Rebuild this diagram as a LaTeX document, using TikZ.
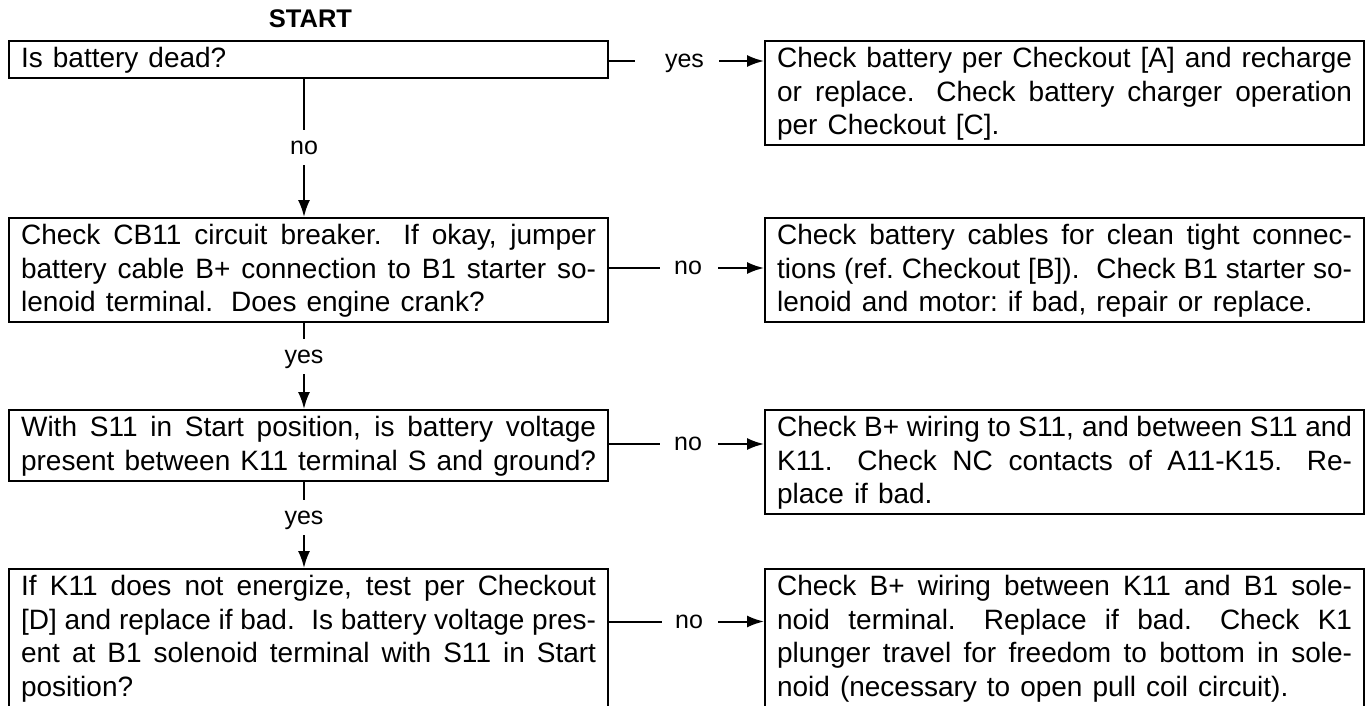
\documentclass[tikz,border=0pt]{standalone}
\usepackage{fontspec}
\setmainfont{Liberation Sans}
\usetikzlibrary{arrows.meta}
\newcommand\wsp{\spaceskip=10pt plus 5pt minus 3.2pt\xspaceskip=18pt plus 6pt minus 2pt\sfcode58=1000\relax}
\newcommand\jl[1]{\hbox to\hsize{\wsp #1}}
\newcommand\lastl{\noindent\wsp}
\newcommand\mystrut{\vrule height 24.9pt depth 8.6pt width 0pt\relax}
\newcommand\sentend{\spacefactor3000{}}
\begin{document}
\begin{tikzpicture}[x=1pt,y=-1pt,
  box/.style={draw, line width=2.2pt, anchor=north west, text width=575pt,
    inner xsep=12pt, inner ysep=1.75pt, align=left,
    font=\fontsize{28}{33.5}\selectfont},
  hlab/.style={inner sep=0pt, text height=13pt, text depth=0pt,
    font=\fontsize{25}{30}\selectfont},
  conn/.style={line width=2pt},
  arr/.style={line width=2pt, -{Latex[length=17pt,width=12pt]}},
  titletext/.style={font=\fontsize{25.5}{30}\selectfont\bfseries, inner sep=0pt}]
\path[fill=white] (0,0) rectangle (1370,706);
\useasboundingbox (0,0) rectangle (1370,706);

\node[titletext] (start) at (310.5,19) {START};

% left column
\node[box] (b1) at (8,40) {\lastl\mystrut Is battery dead?\mystrut};
\node[box] (b2) at (8,217) {\jl{\mystrut Check CB11 circuit breaker. If okay, jumper}
\jl{battery cable B+ connection to B1 starter so-}
\lastl lenoid terminal. Does engine crank?\mystrut};
\node[box] (b3) at (8,409) {\jl{\mystrut With S11 in Start position, is battery voltage}
\jl{present between K11 terminal S and ground?\mystrut}};
\node[box] (b4) at (8,568) {\jl{\mystrut If K11 does not energize, test per Checkout}
\jl{[D] and replace if bad. Is battery voltage pres-}
\jl{ent at B1 solenoid terminal with S11 in Start}
\lastl position?\mystrut};

% right column
\node[box] (r1) at (764,40) {\jl{\mystrut Check battery per Checkout [A] and recharge}
\jl{or replace. Check battery charger operation}
\lastl per Checkout [C].\mystrut};
\node[box] (r2) at (764,217) {\jl{\mystrut Check battery cables for clean tight connec-}
\jl{tions (ref.\ Checkout [B]).\sentend{} Check B1 starter so-}
\lastl lenoid and motor: if bad, repair or replace.\mystrut};
\node[box] (r3) at (764,409) {\jl{\mystrut Check B+ wiring to S11, and between S11 and}
\jl{K11. Check NC contacts of A11-K15. Re-}
\lastl place if bad.\mystrut};
\node[box] (r4) at (764,568) {\jl{\mystrut Check B+ wiring between K11 and B1 sole-}
\jl{noid terminal. Replace if bad. Check K1}
\jl{plunger travel for freedom to bottom in sole-}
\lastl noid (necessary to open pull coil circuit).\mystrut};

% vertical labels
\node[hlab] (v1) at (304,147.5) {no};
\node[hlab] (v2) at (304,356.5) {yes};
\node[hlab] (v3) at (304,517.5) {yes};

% horizontal labels
\node[hlab] (h1) at (684.5,61) {yes};
\node[hlab] (h2) at (688,268) {no};
\node[hlab] (h3) at (688,444) {no};
\node[hlab] (h4) at (689,621.5) {no};

% vertical connectors
\draw[conn] (b1.south -| v1) -- ([yshift=11pt]v1.north);
\draw[arr] ([yshift=-11pt]v1.south) -- (b2.north -| v1);
\draw[conn] (b2.south -| v2) -- ([yshift=11pt]v2.north);
\draw[arr] ([yshift=-11pt]v2.south) -- (b3.north -| v2);
\draw[conn] (b3.south -| v3) -- ([yshift=11pt]v3.north);
\draw[arr] ([yshift=-11pt]v3.south) -- (b4.north -| v3);

% horizontal connectors
\draw[conn] (b1.east |- h1) -- ([xshift=-30pt]h1.west);
\draw[arr] ([xshift=15pt]h1.east) -- (r1.west |- h1);
\draw[conn] (b2.east |- h2) -- ([xshift=-14pt]h2.west);
\draw[arr] ([xshift=16pt]h2.east) -- (r2.west |- h2);
\draw[conn] (b3.east |- h3) -- ([xshift=-14pt]h3.west);
\draw[arr] ([xshift=16pt]h3.east) -- (r3.west |- h3);
\draw[conn] (b4.east |- h4) -- ([xshift=-13pt]h4.west);
\draw[arr] ([xshift=15pt]h4.east) -- (r4.west |- h4);
\end{tikzpicture}
\end{document}
